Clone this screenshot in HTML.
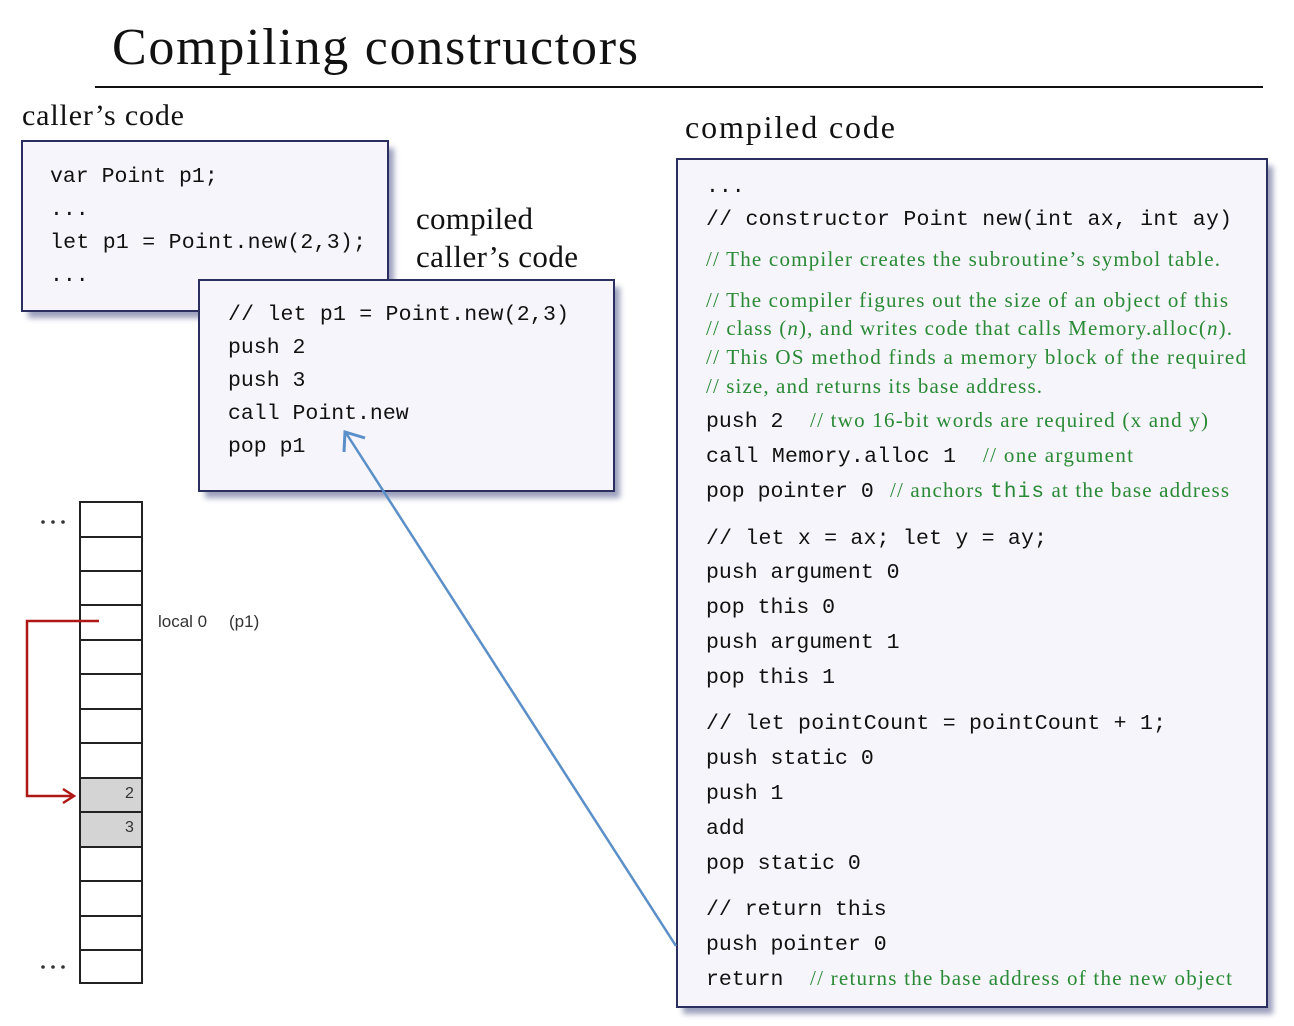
<!DOCTYPE html>
<html><head><meta charset="utf-8"><style>
html,body{margin:0;padding:0;background:#fff;}
svg{display:block}
.m{font-family:"Liberation Mono",monospace;font-size:21.5px;fill:#111}
.g{font-family:"Liberation Serif",serif;font-size:21px;fill:#2a8a35}
.s{font-family:"Liberation Serif",serif;fill:#111}
</style></head><body>
<svg width="1294" height="1026" viewBox="0 0 1294 1026" xmlns="http://www.w3.org/2000/svg">
<defs>
<filter id="sh" x="-5%" y="-5%" width="115%" height="115%"><feGaussianBlur stdDeviation="3"/></filter>
</defs>
<text x="112" y="64" class="s" font-size="52" textLength="526">Compiling constructors</text>
<line x1="95" y1="87" x2="1263" y2="87" stroke="#111" stroke-width="2"/>
<text x="22" y="125" class="s" font-size="30" textLength="162">caller’s code</text>
<text x="685" y="138" class="s" font-size="32" textLength="210">compiled code</text>
<text x="416" y="229" class="s" font-size="31" textLength="117">compiled</text>
<text x="416" y="267" class="s" font-size="31" textLength="162">caller’s code</text>

<!-- caller box -->
<rect x="28" y="148" width="366" height="170" fill="#5a6090" opacity="0.6" filter="url(#sh)"/>
<rect x="22" y="141" width="366" height="170" fill="#f5f5fb" stroke="#2a2f60" stroke-width="2"/>
<text class="m" x="50" y="182">var Point p1;</text>
<text class="m" x="50" y="215">...</text>
<text class="m" x="50" y="248" textLength="316">let p1 = Point.new(2,3);</text>
<text class="m" x="50" y="281">...</text>

<!-- compiled caller box -->
<rect x="205" y="287" width="415" height="211" fill="#5a6090" opacity="0.6" filter="url(#sh)"/>
<rect x="199" y="280" width="415" height="211" fill="#f5f5fb" stroke="#2a2f60" stroke-width="2"/>
<text class="m" x="228" y="320" textLength="341">// let p1 = Point.new(2,3)</text>
<text class="m" x="228" y="353">push 2</text>
<text class="m" x="228" y="386">push 3</text>
<text class="m" x="228" y="419">call Point.new</text>
<text class="m" x="228" y="452">pop p1</text>

<!-- compiled code box -->
<rect x="683" y="166" width="590" height="848" fill="#5a6090" opacity="0.6" filter="url(#sh)"/>
<rect x="677" y="159" width="590" height="848" fill="#f5f5fb" stroke="#2a2f60" stroke-width="2"/>
<text class="m" x="706" y="192">...</text>
<text class="m" x="706" y="225" textLength="526">// constructor Point new(int ax, int ay)</text>
<text class="g" x="706" y="266" textLength="514">// The compiler creates the subroutine’s symbol table.</text>
<text class="g" x="706" y="307" textLength="522">// The compiler figures out the size of an object of this</text>
<text class="g" x="706" y="335" textLength="526">// class (<tspan font-style="italic">n</tspan>), and writes code that calls Memory.alloc(<tspan font-style="italic">n</tspan>).</text>
<text class="g" x="706" y="364" textLength="540">// This OS method finds a memory block of the required</text>
<text class="g" x="706" y="393" textLength="336">// size, and returns its base address.</text>
<text class="m" x="706" y="427">push 2</text>
<text class="g" x="810" y="427" textLength="398">// two 16-bit words are required (x and y)</text>
<text class="m" x="706" y="462" textLength="250">call Memory.alloc 1</text>
<text class="g" x="983" y="462" textLength="150">// one argument</text>
<text class="m" x="706" y="497">pop pointer 0</text>
<text class="g" x="890" y="497" textLength="339">// anchors <tspan font-family="Liberation Mono, monospace" font-size="21">this</tspan> at the base address</text>
<text class="m" x="706" y="544" textLength="341">// let x = ax; let y = ay;</text>
<text class="m" x="706" y="578">push argument 0</text>
<text class="m" x="706" y="613">pop this 0</text>
<text class="m" x="706" y="648">push argument 1</text>
<text class="m" x="706" y="683">pop this 1</text>
<text class="m" x="706" y="729" textLength="460">// let pointCount = pointCount + 1;</text>
<text class="m" x="706" y="764">push static 0</text>
<text class="m" x="706" y="799">push 1</text>
<text class="m" x="706" y="834">add</text>
<text class="m" x="706" y="869">pop static 0</text>
<text class="m" x="706" y="915">// return this</text>
<text class="m" x="706" y="950">push pointer 0</text>
<text class="m" x="706" y="985">return</text>
<text class="g" x="810" y="985" textLength="422">// returns the base address of the new object</text>

<!-- stack -->
<g stroke="#222" stroke-width="2" fill="#fff">
<rect x="80" y="502" width="62" height="481"/>
<rect x="80" y="778" width="62" height="69" fill="#d4d4d4"/>
<line x1="80" y1="537" x2="142" y2="537"/>
<line x1="80" y1="571" x2="142" y2="571"/>
<line x1="80" y1="605" x2="142" y2="605"/>
<line x1="80" y1="640" x2="142" y2="640"/>
<line x1="80" y1="674" x2="142" y2="674"/>
<line x1="80" y1="709" x2="142" y2="709"/>
<line x1="80" y1="743" x2="142" y2="743"/>
<line x1="80" y1="812" x2="142" y2="812"/>
<line x1="80" y1="881" x2="142" y2="881"/>
<line x1="80" y1="916" x2="142" y2="916"/>
<line x1="80" y1="950" x2="142" y2="950"/>
</g>
<text x="125" y="798" font-family="Liberation Sans,sans-serif" font-size="16" fill="#333">2</text>
<text x="125" y="832" font-family="Liberation Sans,sans-serif" font-size="16" fill="#333">3</text>
<g fill="#333"><circle cx="43" cy="522" r="1.8"/><circle cx="53" cy="522" r="1.8"/><circle cx="63" cy="522" r="1.8"/>
<circle cx="43" cy="967" r="1.8"/><circle cx="53" cy="967" r="1.8"/><circle cx="63" cy="967" r="1.8"/></g>
<text x="158" y="627" font-family="Liberation Sans,sans-serif" font-size="17" fill="#333">local 0</text>
<text x="229" y="627" font-family="Liberation Sans,sans-serif" font-size="17" fill="#333">(p1)</text>

<!-- red arrow -->
<polyline points="99,621 27,621 27,796 72,796" fill="none" stroke="#b01818" stroke-width="2.5"/>
<polyline points="63,789 74,796 63,803" fill="none" stroke="#b01818" stroke-width="2.5"/>

<!-- blue arrow -->
<line x1="676" y1="946" x2="346" y2="433" stroke="#5b8fc8" stroke-width="2.5"/>
<polyline points="344,452 345,432 365,438" fill="none" stroke="#5b8fc8" stroke-width="3"/>
</svg>
</body></html>
